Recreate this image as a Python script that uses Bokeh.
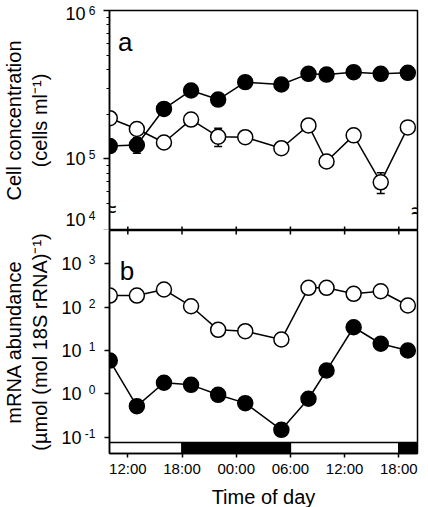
import math
from bokeh.plotting import figure
from bokeh.layouts import column
from bokeh.models import (ColumnDataSource, FixedTicker, Whisker, TeeHead, Label, Range1d,
                          LogAxis)
from bokeh.embed import file_html
from bokeh.resources import INLINE

FONT = "Liberation Sans"

# ---- data ----
hours = [10, 13, 16, 19, 22, 25, 29, 32, 34, 37, 40, 43]

cells_filled = [1.22e5, 1.24e5, 2.17e5, 2.89e5, 2.51e5, 3.29e5, 3.17e5, 3.74e5, 3.70e5, 3.84e5, 3.74e5, 3.80e5]
cells_filled_sd = [0, 1.5e4, 0, 0, 0, 0, 0, 0, 0, 0, 0, 0]
cells_open = [1.88e5, 1.59e5, 1.29e5, 1.84e5, 1.41e5, 1.40e5, 1.18e5, 1.68e5, 9.6e4, 1.44e5, 6.95e4, 1.63e5]
cells_open_sd = [0, 0, 0, 0, 2.0e4, 0, 0, 0, 0, 0, 1.1e4, 0]

mrna_open = [185, 185, 255, 105, 30, 27.9, 17.9, 279, 279, 203, 233, 109]
mrna_filled = [5.86, 0.52, 1.80, 1.61, 0.95, 0.61, 0.148, 0.77, 3.45, 34.4, 14.3, 10.0]

time_ticks = [12, 18, 24, 30, 36, 42]
time_labels = ["12:00", "18:00", "00:00", "06:00", "12:00", "18:00"]

X0, X1 = 9.97, 44.07
YA0, YA1 = 3.29e4, 1e6
YB0, YB1 = 0.042, 5870
BAR_TOP = 0.0755

tick_base = "10"
cell_ticks = [YA0, 1e5, 1e6]
cell_tick_exps = ["4", "5", "6"]
cell_minor = [5e4, 6e4, 7e4, 8e4, 9e4, 2e5, 3e5, 4e5, 5e5, 6e5, 7e5, 8e5, 9e5]

mrna_ticks = [0.1, 1, 10, 100, 1000]
mrna_tick_exps = ["-1", "0", "1", "2", "3"]

phase_start = [X0, 18, 30, 42]
phase_end = [18, 30, 42, X1]
phase_color = ["white", "black", "white", "black"]

FRAME_W, FRAME_HA, FRAME_HB = 308, 220, 223


def style(p):
    p.grid.visible = False
    p.outline_line_color = "black"
    p.outline_line_width = 1.5
    p.outline_line_alpha = 1
    p.background_fill_color = "white"
    p.border_fill_color = "white"


def bare_axis(ticks, overrides, font_size, standoff):
    ax = LogAxis(ticker=FixedTicker(ticks=ticks, minor_ticks=[]))
    ax.major_label_overrides = overrides
    ax.axis_line_color = None
    ax.major_tick_line_color = None
    ax.minor_tick_line_color = None
    ax.major_tick_out = 0
    ax.major_tick_in = 0
    ax.minor_tick_out = 0
    ax.minor_tick_in = 0
    ax.major_label_text_font = FONT
    ax.major_label_text_font_size = font_size
    ax.major_label_text_color = "black"
    ax.major_label_standoff = standoff
    return ax


def build_yaxes(p, ticks, exps, minor, title, y_end, px_per_dec, tick_out, exp_standoff,
                base_standoff, label_standoff, lift=None):
    lift = lift or {}
    shift = lambda v, px: v * 10 ** (px / px_per_dec)
    # innermost axis: line and ticks only
    k = p.yaxis[0]
    k.ticker = FixedTicker(ticks=ticks, minor_ticks=minor)
    k.major_label_overrides = {t: "" for t in ticks}
    k.major_label_standoff = 0
    k.major_label_text_font_size = "1px"
    k.axis_line_width = 1.5
    k.axis_line_color = "black"
    k.major_tick_line_width = 1.5
    k.minor_tick_line_width = 1.2
    k.major_tick_out = tick_out
    k.major_tick_in = 0
    k.minor_tick_out = 3
    k.minor_tick_in = 0
    # middle axis: the exponents, raised like superscripts (kept inside the range)
    exp_pos = [min(shift(t, lift.get(t, 0) + 4), y_end) for t in ticks]
    e = bare_axis(exp_pos, dict(zip(exp_pos, exps)), "12px", exp_standoff)
    p.add_layout(e, "left")
    # outer axis: the "10" bases and the axis title
    base_pos = [shift(t, lift.get(t, 0)) for t in ticks]
    b = bare_axis(base_pos, {v: tick_base for v in base_pos}, "18px", base_standoff)
    b.axis_label = title
    b.axis_label_text_font = FONT
    b.axis_label_text_font_size = "20px"
    b.axis_label_text_font_style = "normal"
    b.axis_label_text_color = "black"
    b.axis_label_standoff = label_standoff
    p.add_layout(b, "left")


# ---- panel a ----
pa = figure(frame_width=FRAME_W, frame_height=FRAME_HA,
            x_range=Range1d(X0, X1), y_range=Range1d(YA0, YA1),
            y_axis_type="log", x_axis_location=None,
            min_border_left=102, min_border_right=8, min_border_top=10, min_border_bottom=0,
            output_backend="svg", toolbar_location=None)
style(pa)
build_yaxes(pa, cell_ticks, cell_tick_exps, cell_minor,
            "Cell concentration\n(cells ml\u207b\u00b9)", YA1,
            FRAME_HA / math.log10(YA1 / YA0), 6, 8, 0, 11, lift={YA0: 11, YA1: -3})

for vals, sds in ((cells_open, cells_open_sd), (cells_filled, cells_filled_sd)):
    xs = [h for h, s in zip(hours, sds) if s > 0]
    lo = [v - s for v, s in zip(vals, sds) if s > 0]
    hi = [v + s for v, s in zip(vals, sds) if s > 0]
    src = ColumnDataSource(dict(x=xs, lower=lo, upper=hi))
    pa.add_layout(Whisker(source=src, base="x", lower="lower", upper="upper",
                          line_color="black", line_width=1.5,
                          upper_head=TeeHead(size=8, line_width=1.5, line_color="black"),
                          lower_head=TeeHead(size=8, line_width=1.5, line_color="black")))

pa.line(hours, cells_open, line_color="black", line_width=1.5)
pa.scatter(hours, cells_open, size=15, fill_color="white", line_color="black", line_width=1.5)
pa.line(hours, cells_filled, line_color="black", line_width=1.5)
pa.scatter(hours, cells_filled, size=15, fill_color="black", line_color="black", line_width=1.5)

# ticks at the shared boundary (upper half)
pa.scatter(time_ticks, [YA0] * len(time_ticks), marker="dash", angle=math.pi / 2,
           size=8, line_color="black", line_width=1.5)

pa.add_layout(Label(x=10.9, y=6.1e5, text="a", text_font=FONT, text_font_size="26px",
                    text_color="black", text_baseline="alphabetic"))
# axis-break marks
pa.text(x=[X0, X1], y=[4.6e4, 4.5e4], text=["\u2248", "\u2248"], text_font_size="24px",
        text_align="center", text_baseline="middle", text_color="black")

# ---- panel b ----
pb = figure(frame_width=FRAME_W, frame_height=FRAME_HB,
            x_range=pa.x_range, y_range=Range1d(YB0, YB1),
            y_axis_type="log",
            min_border_left=102, min_border_right=8, min_border_top=0, min_border_bottom=53,
            output_backend="svg", toolbar_location=None)
style(pb)
build_yaxes(pb, mrna_ticks, mrna_tick_exps, [],
            "mRNA abundance\n(\u00b5mol (mol 18S rRNA)\u207b\u00b9)", YB1,
            FRAME_HB / math.log10(YB1 / YB0), 5, 9, 0, 7)

xa = pb.xaxis[0]
xa.ticker = FixedTicker(ticks=time_ticks, minor_ticks=[])
xa.major_label_overrides = dict(zip(time_ticks, time_labels))
xa.axis_line_width = 1.5
xa.major_tick_line_width = 1.5
xa.major_tick_out = 4
xa.major_tick_in = 0
xa.minor_tick_out = 0
xa.minor_tick_in = 0
xa.major_label_text_font = FONT
xa.major_label_text_font_size = "15px"
xa.major_label_text_color = "black"
xa.major_label_standoff = 2
xa.axis_label = "Time of day"
xa.axis_label_text_font = FONT
xa.axis_label_text_font_size = "20px"
xa.axis_label_text_font_style = "normal"
xa.axis_label_text_color = "black"
xa.axis_label_standoff = 6

pb.quad(left=phase_start, right=phase_end, bottom=YB0, top=BAR_TOP,
        fill_color=phase_color, line_color="black", line_width=1.5)

pb.line(hours, mrna_open, line_color="black", line_width=1.5)
pb.scatter(hours, mrna_open, size=15, fill_color="white", line_color="black", line_width=1.5)
pb.line(hours, mrna_filled, line_color="black", line_width=1.5)
pb.scatter(hours, mrna_filled, size=15, fill_color="black", line_color="black", line_width=1.5)

pb.scatter(time_ticks, [YB1] * len(time_ticks), marker="dash", angle=math.pi / 2,
           size=8, line_color="black", line_width=1.5)

pb.add_layout(Label(x=11.1, y=700, text="b", text_font=FONT, text_font_size="26px",
                    text_color="black", text_baseline="alphabetic"))

layout = column(pa, pb, spacing=0)
open("out.html", "w").write(file_html(layout, INLINE))
